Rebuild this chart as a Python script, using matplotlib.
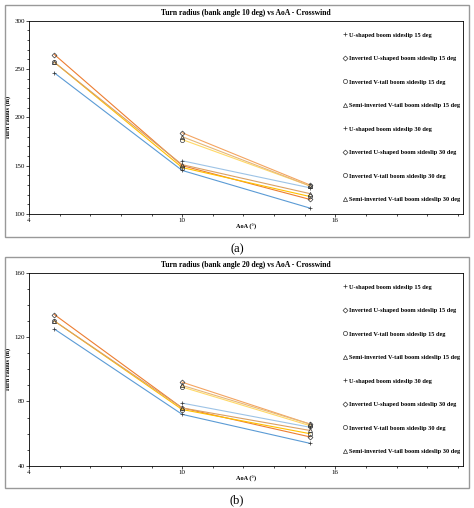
import matplotlib
matplotlib.use("Agg")
import matplotlib.pyplot as plt
from matplotlib.patches import Rectangle

plt.rcParams['font.family'] = ['Liberation Serif', 'DejaVu Serif']

aoa15 = [5, 10, 15]
aoa30 = [10, 15]
labels = ["U-shaped boom sideslip 15 deg", "Inverted U-shaped boom sideslip 15 deg",
          "Inverted V-tail boom sideslip 15 deg", "Semi-inverted V-tail boom sideslip 15 deg",
          "U-shaped boom sideslip 30 deg", "Inverted U-shaped boom sideslip 30 deg",
          "Inverted V-tail boom sideslip 30 deg", "Semi-inverted V-tail boom sideslip 30 deg"]
# panel (a): bank 10 deg
a15 = [[246, 145, 106], [265, 150, 115], [257, 148, 118], [257, 151, 121]]
a30 = [[155, 127], [184, 130], [177, 129], [180, 129]]
# panel (b): bank 20 deg
b15 = [[125, 72, 54], [134, 76, 58], [130, 75, 60], [130, 76, 62]]
b30 = [[79, 64], [92, 66], [89, 65], [90, 66]]

colors = ["#5b9bd5", "#ed7d31", "#ffc000", "#d9a066"]
colors30 = ["#9dc3e6", "#f4a460", "#ffd966", "#e6b87a"]
markers = ["+", "D", "o", "^"]
msizes = [3.5, 2.5, 3, 3]

fig = plt.figure(figsize=(4.74, 5.08), dpi=100)

def panel(bottom, d15, d30, ylim, yticks, title, tag, boxy):
    fig.add_artist(Rectangle((0.01, boxy[0]), 0.98, boxy[1]-boxy[0], transform=fig.transFigure,
                             fill=False, edgecolor="#999999", lw=1))
    ax = fig.add_axes([0.061, bottom, 0.916, 0.38])
    for i in range(4):
        ax.plot(aoa15, d15[i], color=colors[i], lw=0.8, marker=markers[i], ms=msizes[i],
                mfc="none", mec="#333333", mew=0.5, label=labels[i])
    for i in range(4):
        ax.plot(aoa30, d30[i], color=colors30[i], lw=0.8, marker=markers[i], ms=msizes[i],
                mfc="none", mec="#333333", mew=0.5, label=labels[i+4])
    ax.set_xlim(4, 21)
    ax.set_ylim(*ylim)
    ax.set_xticks([4, 10, 16])
    ax.set_yticks(yticks)
    ax.minorticks_on()
    ax.set_xticks([4 + 1.2*k for k in range(15)], minor=True)
    ax.tick_params(labelsize=5, length=2, width=0.5, pad=1)
    ax.tick_params(which='minor', length=1.5, width=0.5)
    for s in ax.spines.values():
        s.set_linewidth(0.6)
    ax.set_title(title, fontsize=5.5, fontweight="bold", pad=4)
    ax.set_xlabel("AoA (°)", fontsize=4.5, fontweight="bold", labelpad=1)
    ax.set_ylabel("Turn radius (m)", fontsize=4.5, fontweight="bold", labelpad=2)
    leg = ax.legend(loc="upper left", bbox_to_anchor=(0.71, 0.97), frameon=False,
                    labelspacing=2.9, handlelength=0.6, handletextpad=0.4,
                    prop={'weight': 'bold', 'size': 4.5})
    for h in leg.get_lines():
        h.set_linestyle("none")
    fig.text(0.5, boxy[0] - 0.03, tag, ha="center", fontsize=9)
    return ax

panel(0.579, a15, a30, (100, 300), [100, 150, 200, 250, 300],
      "Turn radius (bank angle 10 deg) vs AoA - Crosswind", "(a)", (0.533, 0.99))
panel(0.083, b15, b30, (40, 160), [40, 80, 120, 160],
      "Turn radius (bank angle 20 deg) vs AoA - Crosswind", "(b)", (0.04, 0.494))

fig.savefig("out.png", dpi=100)
